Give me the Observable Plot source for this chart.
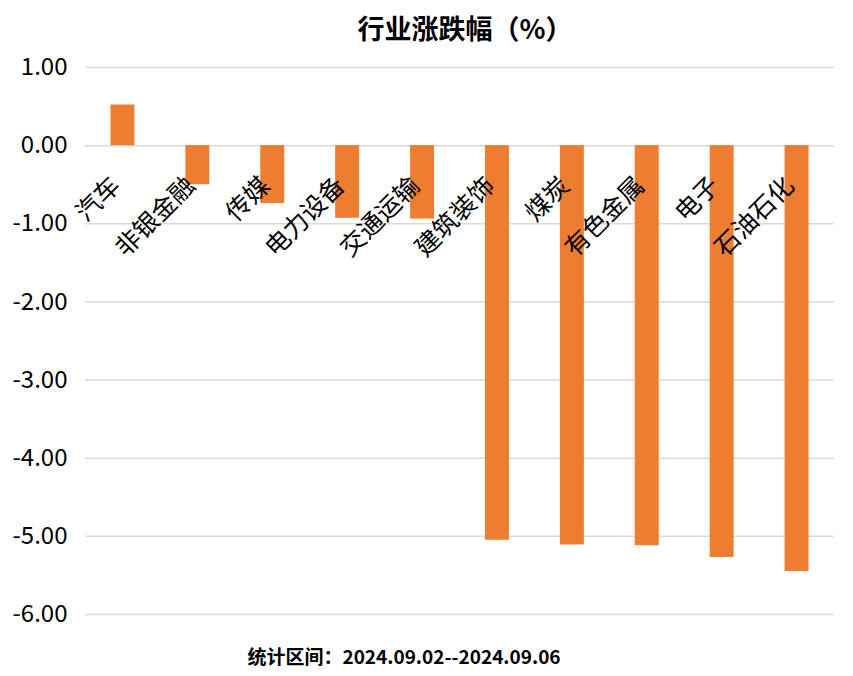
<!DOCTYPE html>
<html>
<head>
<meta charset="utf-8">
<script src="https://cdn.jsdelivr.net/npm/d3@7"></script>
<script src="https://cdn.jsdelivr.net/npm/@observablehq/plot@0.6"></script>
<style>
  html, body { margin: 0; padding: 0; background: #fff; }
  body { width: 853px; height: 676px; position: relative; overflow: hidden; font-family: "Noto Sans CJK SC", "Noto Sans", sans-serif; }
  #title { position: absolute; left: 0; top: 8px; width: 930px; text-align: center; font-size: 27px; font-weight: bold; color: #000; line-height: 40px; }
  #chart { position: absolute; left: 0; top: 48px; }
  #caption { position: absolute; left: 0; top: 642px; width: 808px; text-align: center; font-size: 19px; font-weight: bold; color: #000; line-height: 28px; }
</style>
</head>
<body>
<div id="title">行业涨跌幅（%）</div>
<div id="chart"></div>
<div id="caption">统计区间：2024.09.02--2024.09.06</div>
<script>
const categories = ["汽车", "非银金融", "传媒", "电力设备", "交通运输", "建筑装饰", "煤炭", "有色金属", "电子", "石油石化"];
const values = [0.52, -0.50, -0.74, -0.93, -0.94, -5.05, -5.11, -5.12, -5.27, -5.45];
const yTicks = [1, 0, -1, -2, -3, -4, -5, -6];

const data = categories.map((name, i) => ({name, value: values[i]}));

const chart = Plot.plot({
  width: 853,
  height: 592,
  marginLeft: 85,
  marginRight: 19,
  marginTop: 19,
  marginBottom: 26,
  style: {fontFamily: "'Noto Sans CJK SC', 'Noto Sans', sans-serif", background: "#fff", color: "#000", overflow: "visible"},
  x: {domain: categories, paddingInner: 0.68, paddingOuter: 0.34, round: false, axis: null},
  y: {domain: [-6, 1], ticks: yTicks},
  marks: [
    Plot.ruleY(yTicks, {stroke: "#d9d9d9", strokeWidth: 1.5}),
    Plot.barY(data, {x: "name", y: "value", fill: "#ED7D31"}),
    Plot.axisY({ticks: yTicks, tickSize: 0, tickPadding: 18, fontSize: 24, tickFormat: d => d.toFixed(2), label: null, fill: "#000"}),
    Plot.text(data, {x: "name", y: () => 0, text: "name", rotate: -45, textAnchor: "end", lineAnchor: "middle", fontSize: 25, dx: -7, dy: 36, fill: "#000"})
  ]
});
document.getElementById("chart").appendChild(chart);
</script>
</body>
</html>
